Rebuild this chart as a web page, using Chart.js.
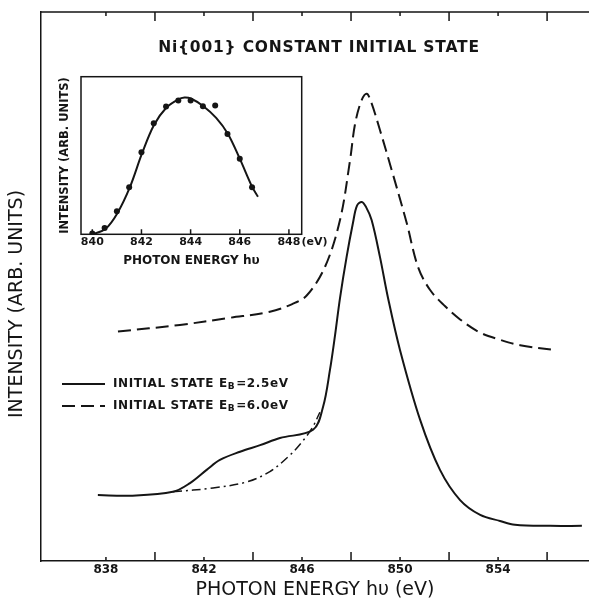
<!DOCTYPE html>
<html>
<head>
<meta charset="utf-8">
<script src="https://cdn.jsdelivr.net/npm/chart.js@4.4.0/dist/chart.umd.min.js"></script>
<style>
  body { margin: 0; background: #fff; }
  #wrap { position: relative; width: 589px; height: 601px; }
  #main { position: absolute; left: 0; top: 0; }
  #inset { position: absolute; left: 50px; top: 68px; }
</style>
</head>
<body>
<div id="wrap">
  <canvas id="main" width="589" height="601"></canvas>
  <canvas id="inset" width="280" height="200"></canvas>
</div>
<script>
// main spectrum: E_B = 2.5 eV (solid)
const solidX = [837.67, 838.98, 840.73, 841.43, 842.11, 842.65, 843.47, 844.29, 845.1, 846.45, 846.86, 847.14, 847.35, 847.55, 847.82, 848.08, 848.24, 848.44, 848.61, 848.84, 849.18, 849.51, 850.0, 850.82, 851.63, 852.45, 853.27, 854.08, 854.69, 856.12, 857.42];
const solidY = [12.0, 11.9, 12.6, 14.2, 16.6, 18.4, 19.9, 21.1, 22.4, 23.9, 28.1, 34.8, 41.2, 47.9, 55.4, 61.6, 64.7, 65.4, 64.5, 62.1, 55.4, 47.9, 38.4, 25.7, 16.6, 11.1, 8.4, 7.3, 6.6, 6.4, 6.4];
// E_B = 6.0 eV (dashed)
const dashedX = [838.49, 841.02, 843.06, 844.69, 845.6, 846.2, 846.94, 847.55, 847.96, 848.16, 848.42, 848.64, 848.82, 849.18, 849.66, 850.27, 850.73, 851.22, 851.84, 852.45, 853.27, 854.08, 854.9, 856.33];
const dashedY = [41.8, 43.0, 44.3, 45.4, 46.8, 48.4, 53.6, 62.1, 73.0, 79.5, 83.8, 85.1, 83.6, 78.5, 71.2, 61.6, 53.6, 49.4, 46.4, 44.0, 41.6, 40.3, 39.3, 38.4];
// background under the shoulder (dash-dot)
const dashDotX = [840.73, 842.37, 843.74, 844.69, 845.51, 846.0, 846.41, 846.73];
const dashDotY = [12.6, 13.3, 14.4, 16.3, 19.3, 21.7, 24.2, 27.1];

// inset: measured points and fitted curve
const insetDotX = [840, 840.5, 841, 841.5, 842, 842.5, 843, 843.5, 844, 844.5, 845, 845.5, 846, 846.5];
const insetDotY = [0.5, 4.0, 14.6, 29.9, 52.0, 70.5, 81.1, 84.9, 84.9, 81.3, 81.7, 63.7, 48.0, 29.9];
const insetFitX = [840, 840.54, 841.02, 841.53, 842.03, 842.51, 843.01, 843.48, 843.75, 844.03, 844.52, 845.04, 845.52, 846.0, 846.51, 846.74];
const insetFitY = [0, 3.5, 13.4, 29.9, 51.6, 69.4, 80.3, 85.4, 86.8, 86.0, 81.3, 73.9, 63.7, 48.0, 29.9, 23.8];

// ticks
const mainTicks = [838, 840, 842, 844, 846, 848, 850, 852, 854, 856];
const mainLabels = [838, 842, 846, 850, 854];
const mainLong = [840, 844, 848, 852, 856];
const insetTicks = [840, 842, 844, 846, 848];

const INK = '#151515';
const FONT = "'DejaVu Sans', sans-serif";

function pts(xs, ys) {
  return xs.map((x, i) => ({ x: x, y: ys[i] }));
}

function legendLabel(ctx, x, y, value) {
  ctx.font = 'bold 12px ' + FONT;
  ctx.letterSpacing = '0.6px';
  ctx.textAlign = 'left';
  ctx.textBaseline = 'middle';
  let t = 'INITIAL STATE E';
  ctx.fillText(t, x, y);
  x += ctx.measureText(t).width;
  ctx.font = 'bold 9px ' + FONT;
  ctx.fillText('B', x, y + 3);
  x += ctx.measureText('B').width + 1;
  ctx.font = 'bold 12px ' + FONT;
  ctx.fillText('=' + value, x, y);
}

const mainDecor = {
  id: 'mainDecor',
  afterDraw(chart) {
    const { ctx, chartArea: a, scales: { x } } = chart;
    ctx.save();
    ctx.strokeStyle = INK;
    ctx.lineWidth = 1.5;
    ctx.beginPath();
    ctx.moveTo(a.left, a.top);
    ctx.lineTo(a.right, a.top);
    mainTicks.forEach(v => {
      const px = x.getPixelForValue(v);
      const long = mainLong.includes(v);
      ctx.moveTo(px, a.bottom);
      ctx.lineTo(px, a.bottom - (long ? 9 : 4));
      ctx.moveTo(px, a.top);
      ctx.lineTo(px, a.top + (long ? 9 : 4));
    });
    ctx.stroke();

    ctx.fillStyle = INK;
    ctx.font = 'bold 15.5px ' + FONT;
    ctx.letterSpacing = '0.8px';
    ctx.textAlign = 'center';
    ctx.textBaseline = 'middle';
    ctx.fillText('Ni{001} CONSTANT INITIAL STATE', 319, 48);

    // y axis title
    ctx.save();
    ctx.font = '19px ' + FONT;
    ctx.letterSpacing = '0px';
    ctx.translate(17, 304);
    ctx.rotate(-Math.PI / 2);
    ctx.fillText('INTENSITY (ARB. UNITS)', 0, 0);
    ctx.restore();

    // legend
    const ds = chart.data.datasets;
    [[ds[0], 384, '2.5eV'], [ds[1], 406, '6.0eV']].forEach(([d, y, val]) => {
      ctx.save();
      ctx.lineWidth = d.borderWidth;
      ctx.setLineDash(d.borderDash || []);
      ctx.beginPath();
      ctx.moveTo(62, y);
      ctx.lineTo(105, y);
      ctx.stroke();
      ctx.restore();
      legendLabel(ctx, 113, y, val);
    });
    ctx.restore();
  }
};

new Chart(document.getElementById('main'), {
  type: 'line',
  data: {
    datasets: [
      { label: 'INITIAL STATE EB=2.5eV', data: pts(solidX, solidY), borderColor: INK, borderWidth: 2, pointRadius: 0, tension: 0.35 },
      { label: 'INITIAL STATE EB=6.0eV', data: pts(dashedX, dashedY), borderColor: INK, borderWidth: 2, borderDash: [13, 6], pointRadius: 0, tension: 0.35 },
      { label: 'background', data: pts(dashDotX, dashDotY), borderColor: INK, borderWidth: 1.5, borderDash: [9, 4, 2, 4], pointRadius: 0, tension: 0.35 }
    ]
  },
  options: {
    responsive: false,
    animation: false,
    devicePixelRatio: 1,
    layout: { padding: { top: 12, right: 0, left: 0, bottom: 0 } },
    plugins: { legend: { display: false }, tooltip: { enabled: false } },
    scales: {
      x: {
        type: 'linear', min: 835.35, max: 857.71,
        grid: { display: false, drawTicks: false },
        border: { display: true, color: INK, width: 1.5 },
        ticks: {
          stepSize: 2, includeBounds: false, autoSkip: false, maxRotation: 0, padding: 2,
          color: INK, font: { family: FONT, size: 12, weight: 'bold' },
          callback: v => mainLabels.includes(v) ? String(v) : ''
        },
        title: { display: true, text: 'PHOTON ENERGY hυ (eV)', color: INK, font: { family: FONT, size: 19, lineHeight: 1 }, padding: { top: 0, bottom: 1 } },
        afterFit: s => { s.height = 40; }
      },
      y: {
        min: 0, max: 100,
        grid: { display: false, drawTicks: false },
        border: { display: true, color: INK, width: 1.5 },
        ticks: { display: false },
        title: { display: false },
        afterFit: s => { s.width = 41; }
      }
    }
  },
  plugins: [mainDecor]
});

const insetDecor = {
  id: 'insetDecor',
  beforeDraw(chart) {
    const { ctx, chartArea: a } = chart;
    ctx.save();
    ctx.fillStyle = '#fff';
    ctx.fillRect(a.left, a.top, a.right - a.left, a.bottom - a.top);
    ctx.restore();
  },
  afterDraw(chart) {
    const { ctx, chartArea: a, scales: { x } } = chart;
    ctx.save();
    ctx.strokeStyle = INK;
    ctx.lineWidth = 1.5;
    ctx.strokeRect(a.left, a.top, a.right - a.left, a.bottom - a.top);
    ctx.beginPath();
    insetTicks.forEach(v => {
      const px = x.getPixelForValue(v);
      ctx.moveTo(px, a.bottom);
      ctx.lineTo(px, a.bottom - 5);
    });
    ctx.stroke();
    ctx.fillStyle = INK;
    ctx.font = 'bold 11px ' + FONT;
    ctx.textAlign = 'left';
    ctx.textBaseline = 'middle';
    const last = insetTicks[insetTicks.length - 1];
    const lx = x.getPixelForValue(last) + ctx.measureText(String(last)).width / 2 + 1;
    ctx.fillText('(eV)', lx, a.bottom + 8);
    ctx.restore();
  }
};

new Chart(document.getElementById('inset'), {
  type: 'line',
  data: {
    datasets: [
      { label: 'fit', data: pts(insetFitX, insetFitY), borderColor: INK, borderWidth: 2, pointRadius: 0, tension: 0.35 },
      { label: 'data', data: pts(insetDotX, insetDotY), showLine: false, pointRadius: 3, pointBackgroundColor: INK, pointBorderColor: INK, pointBorderWidth: 0 }
    ]
  },
  options: {
    responsive: false,
    animation: false,
    devicePixelRatio: 1,
    layout: { padding: { top: 8.7, right: 28.3, left: 0, bottom: 0 } },
    plugins: { legend: { display: false }, tooltip: { enabled: false } },
    scales: {
      x: {
        type: 'linear', min: 839.54, max: 848.52,
        grid: { display: false, drawTicks: false },
        border: { display: false },
        ticks: {
          stepSize: 2, includeBounds: false, autoSkip: false, maxRotation: 0, padding: 1.5,
          color: INK, font: { family: FONT, size: 11, weight: 'bold' },
          callback: v => insetTicks.includes(v) ? String(v) : ''
        },
        title: { display: true, text: 'PHOTON ENERGY hυ', color: INK, font: { family: FONT, size: 12, weight: 'bold', lineHeight: 1 }, padding: { top: 0, bottom: 1.2 } },
        afterFit: s => { s.height = 33.7; }
      },
      y: {
        min: 0, max: 100,
        grid: { display: false, drawTicks: false },
        border: { display: false },
        ticks: { display: false },
        title: { display: true, text: 'INTENSITY (ARB. UNITS)', color: INK, font: { family: FONT, size: 11.5, weight: 'bold', lineHeight: 1.2 }, padding: { top: 8.4, bottom: 0 } },
        afterFit: s => { s.width = 31; }
      }
    }
  },
  plugins: [insetDecor]
});
</script>
</body>
</html>
